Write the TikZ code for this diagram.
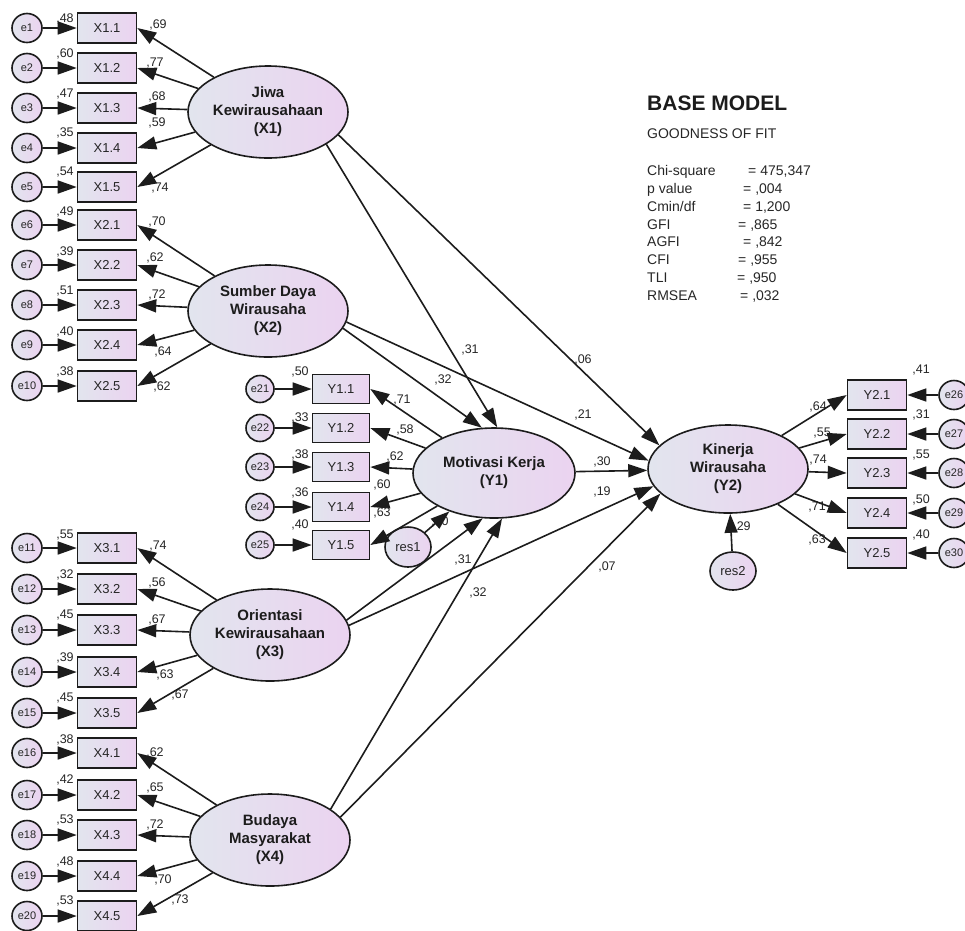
\documentclass[tikz,border=0pt]{standalone}
\usepackage{fontspec}
\setmainfont{Liberation Sans}
\usetikzlibrary{arrows.meta,shapes.geometric}
\definecolor{fillL}{HTML}{E2E5EE}
\definecolor{fillR}{HTML}{EBD3F0}
\definecolor{ink}{HTML}{1C1C1C}
\definecolor{txt}{HTML}{262626}
\begin{document}
\begin{tikzpicture}[x=1pt,y=-1pt,
  gfill/.style={left color=fillL,right color=fillR,draw=ink,line width=1.6pt},
  obs/.style={gfill,rectangle,minimum width=59pt,minimum height=30pt,inner sep=0pt,
    font=\fontsize{13}{15}\selectfont,text=txt},
  err/.style={gfill,ellipse,minimum width=30pt,minimum height=29pt,inner sep=0pt,
    font=\fontsize{11}{13}\selectfont,text=txt},
  lat/.style={gfill,ellipse,minimum width=160pt,minimum height=92pt,inner sep=0pt,
    align=center,font=\fontsize{15}{18}\selectfont\bfseries,text=ink},
  resid/.style={gfill,ellipse,minimum width=46pt,minimum height=40pt,inner sep=0pt,
    font=\fontsize{13}{15}\selectfont,text=txt},
  val/.style={font=\fontsize{12.5}{14}\selectfont,inner sep=0pt,text=txt,
    text height=9pt,text depth=2pt},
  gof/.style={font=\fontsize{14}{16}\selectfont,inner sep=0pt,anchor=west,text=txt,
    text height=10pt,text depth=3pt},
  arr/.style={draw=ink,line width=1.6pt,-{Triangle[length=19pt,width=13pt]}},
]
\useasboundingbox (0,0) rectangle (965,930);

% latent variables
\node[lat] (X1) at (268,112) {Jiwa\\Kewirausahaan\\(X1)};
\node[lat] (X2) at (268,311) {Sumber Daya\\Wirausaha\\(X2)};
\node[lat] (X3) at (270,635) {Orientasi\\Kewirausahaan\\(X3)};
\node[lat] (X4) at (270,840) {Budaya\\Masyarakat\\(X4)};
\node[lat,minimum width=162pt,minimum height=90pt] (Y1) at (494,473) {Motivasi Kerja\\(Y1)};
\node[lat,minimum height=88pt] (Y2) at (728,469) {Kinerja\\Wirausaha\\(Y2)};
\node[resid] (res1) at (408,547) {res1};
\node[resid,minimum height=38pt] (res2) at (733,571) {res2};

% exogenous indicators with their error terms
\foreach \g/\i/\y/\e/\var/\vy/\ld/\lx/\ly in {
  1/1/28/1/48/19/69/158/25,
  1/2/68/2/60/54/77/155/63,
  1/3/108/3/47/94/68/157/97,
  1/4/148/4/35/133/59/157/123,
  1/5/187/5/54/172/74/160/188,
  2/1/225/6/49/212/70/157/222,
  2/2/265/7/39/252/62/155/258,
  2/3/305/8/51/291/72/157/295,
  2/4/345/9/40/332/64/163/352,
  2/5/386/10/38/372/62/162/387,
  3/1/548/11/55/535/74/158/546,
  3/2/589/12/32/575/56/157/583,
  3/3/630/13/45/615/67/157/620,
  3/4/672/14/39/658/63/165/675,
  3/5/713/15/45/698/67/180/695,
  4/1/753/16/38/740/62/155/753,
  4/2/795/17/42/780/65/155/788,
  4/3/835/18/53/820/72/155/825,
  4/4/876/19/48/862/70/163/880,
  4/5/916/20/53/901/73/180/900}{
  \node[obs] (X\g\i) at (107,\y) {X\g.\i};
  \node[err] (e\e) at (27,\y) {e\e};
  \node[val] (ve\e) at (65,\vy) {,\var};
  \node[val] (lx\g\i) at (\lx,\ly) {,\ld};
  \draw[arr] (e\e) -- (X\g\i.west);
  \draw[arr] (X\g) -- (X\g\i.east);
}

% indicators of Y1
\foreach \i/\y/\e/\var/\vy/\ld/\lx/\ly in {
  1/389/21/50/372/71/402/400,
  2/428/22/33/418/58/405/430,
  3/467/23/38/455/62/395/457,
  4/507/24/36/493/60/382/485,
  5/545/25/40/525/63/382/513}{
  \node[obs,minimum width=57pt,minimum height=29pt] (Y1\i) at (341,\y) {Y1.\i};
  \node[err,minimum width=28pt,minimum height=27pt] (e\e) at (260,\y) {e\e};
  \node[val] (ve\e) at (300,\vy) {,\var};
  \node[val] (ly1\i) at (\lx,\ly) {,\ld};
  \draw[arr] (e\e) -- (Y1\i.west);
  \draw[arr] (Y1) -- (Y1\i.east);
}

% indicators of Y2
\foreach \i/\y/\e/\var/\vy/\ld/\lx/\ly in {
  1/395/26/41/370/64/818/407,
  2/434/27/31/415/55/822/433,
  3/473/28/55/455/74/818/460,
  4/513/29/50/500/71/817/507,
  5/553/30/40/535/63/817/540}{
  \node[obs] (Y2\i) at (877,\y) {Y2.\i};
  \node[err] (e\e) at (954,\y) {e\e};
  \node[val] (ve\e) at (921,\vy) {,\var};
  \node[val] (ly2\i) at (\lx,\ly) {,\ld};
  \draw[arr] (e\e) -- (Y2\i.east);
  \draw[arr] (Y2) -- (Y2\i.west);
}

% structural path coefficients
\node[val] (b1) at (470,350) {,31};
\node[val] (b2) at (583,360) {,06};
\node[val] (b3) at (443,380) {,32};
\node[val] (b4) at (583,415) {,21};
\node[val] (b5) at (602,462) {,30};
\node[val] (b6) at (602,492) {,19};
\node[val] (b7) at (463,560) {,31};
\node[val] (b8) at (478,593) {,32};
\node[val] (b9) at (607,567) {,07};
\node[val] (r1) at (440,522) {,40};
\node[val] (r2) at (742,527) {,29};

% structural paths
\draw[arr] (X1.-29) -- (Y1.86);
\draw[arr] (X1.-18) -- (Y2.161);
\draw[arr] (X2.-13) -- (Y1.105);
\draw[arr] (X2.-8) -- (Y2.174);
\draw[arr] (Y1) -- (Y2);
\draw[arr] (X3.11) -- (Y1.-104);
\draw[arr] (X3.7) -- (Y2.193);
\draw[arr] (X4.27) -- (Y1.-80);
\draw[arr] (X4.18) -- (Y2.200);
\draw[arr] (res1) -- (Y1);
\draw[arr] (res2) -- (Y2);

% model fit summary
\node[gof,font=\fontsize{21}{24}\selectfont\bfseries,text height=15pt,text depth=0pt,text=ink] (title) at (647,103) {BASE MODEL};
\node[gof] (sub) at (647,135) {GOODNESS OF FIT};
\foreach \k/\lab/\v/\vx/\yy in {
  1/Chi-square/475{,}347/748/172,
  2/p value/{,}004/743/190,
  3/Cmin{/}df/1{,}200/743/208,
  4/GFI/{,}865/738/226,
  5/AGFI/{,}842/743/243,
  6/CFI/{,}955/738/261,
  7/TLI/{,}950/737/279,
  8/RMSEA/{,}032/740/297}{
  \node[gof] (fl\k) at (647,\yy) {\lab};
  \node[gof] (fv\k) at (\vx,\yy) {= \v};
}
\end{tikzpicture}
\end{document}
